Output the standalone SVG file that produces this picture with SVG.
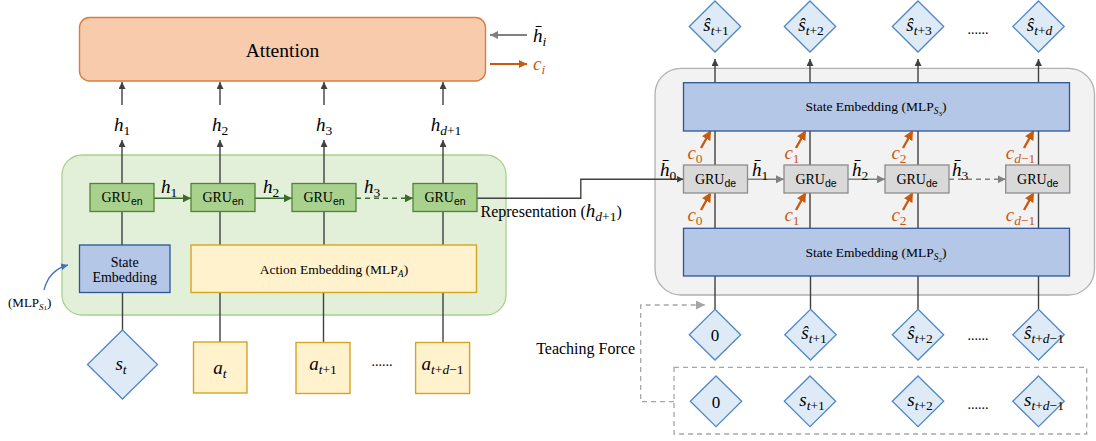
<svg xmlns="http://www.w3.org/2000/svg" width="1096" height="441" viewBox="0 0 1096 441">
<style>
.t{font-family:"Liberation Serif",serif;fill:#000}
.m{font-family:"Liberation Serif",serif;font-style:italic;font-size:19px;fill:#000}
.n{font-style:normal}
.sb{font-size:13.5px}
.ln{stroke:#404040;stroke-width:1.4;fill:none}
.gru-en{fill:#a9d18e;stroke:#548235;stroke-width:1.3}
.gru-de{fill:#d9d9d9;stroke:#8c8c8c;stroke-width:1.3}
.se{fill:#b4c7e7;stroke:#2f5597;stroke-width:1.3}
.act{fill:#fff2cc;stroke:#d6a520;stroke-width:1.4}
.dia{fill:#deebf7;stroke:#4e88c7;stroke-width:1.3}
.g{font-family:"Liberation Serif",serif;font-size:14px;fill:#000}
.gs{font-family:"Liberation Sans",sans-serif;font-size:10.5px}
.oc{stroke:#c55a11;stroke-width:2.4;fill:none}
.ot{fill:#c55a11}
</style>
<defs>
<marker id="ad" viewBox="0 0 10 10" refX="10" refY="5" markerWidth="7" markerHeight="7" markerUnits="userSpaceOnUse" orient="auto"><path d="M0,0 L10,5 L0,10 z" fill="#404040"/></marker>
<marker id="agr" viewBox="0 0 10 10" refX="10" refY="5" markerWidth="8" markerHeight="8" markerUnits="userSpaceOnUse" orient="auto"><path d="M0,0 L10,5 L0,10 z" fill="#3b6b2a"/></marker>
<marker id="agy" viewBox="0 0 10 10" refX="10" refY="5" markerWidth="8" markerHeight="8" markerUnits="userSpaceOnUse" orient="auto"><path d="M0,0 L10,5 L0,10 z" fill="#808080"/></marker>
<marker id="agl" viewBox="0 0 10 10" refX="10" refY="5" markerWidth="9" markerHeight="9" markerUnits="userSpaceOnUse" orient="auto"><path d="M0,0 L10,5 L0,10 z" fill="#a6a6a6"/></marker>
<marker id="aor" viewBox="0 0 10 10" refX="10" refY="5" markerWidth="8" markerHeight="8" markerUnits="userSpaceOnUse" orient="auto"><path d="M0,0 L10,5 L0,10 z" fill="#c55a11"/></marker>
<marker id="aor2" viewBox="0 0 10 10" refX="8" refY="5" markerWidth="4" markerHeight="4" orient="auto"><path d="M0,0 L10,5 L0,10 z" fill="#c55a11"/></marker>
<marker id="abl" viewBox="0 0 10 10" refX="10" refY="5" markerWidth="7" markerHeight="7" markerUnits="userSpaceOnUse" orient="auto"><path d="M0,0 L10,5 L0,10 z" fill="#4472c4"/></marker>
</defs>

<!-- containers -->
<g id="encoder-container"><rect x="62" y="155" width="444" height="160" rx="20" fill="#e2efd9" stroke="#a9d18e" stroke-width="1.3"/></g>
<g id="decoder-container"><rect x="655" y="68.3" width="439.5" height="226.7" rx="26" fill="#f2f2f2" stroke="#b0b0b0" stroke-width="1.3"/></g>
<g id="teacher-box"><rect x="674" y="367.3" width="412.7" height="66.7" fill="none" stroke="#a6a6a6" stroke-width="1.3" stroke-dasharray="5,4"/></g>

<!-- connectors -->
<g id="connectors">
  <line class="ln" x1="122" y1="105" x2="122" y2="82" marker-end="url(#ad)"/>
  <line class="ln" x1="220" y1="105" x2="220" y2="82" marker-end="url(#ad)"/>
  <line class="ln" x1="324" y1="105" x2="324" y2="82" marker-end="url(#ad)"/>
  <line class="ln" x1="443" y1="105" x2="443" y2="82" marker-end="url(#ad)"/>
  <line class="ln" x1="122" y1="183.5" x2="122" y2="140" marker-end="url(#ad)"/>
  <line class="ln" x1="220" y1="183.5" x2="220" y2="140" marker-end="url(#ad)"/>
  <line class="ln" x1="324" y1="183.5" x2="324" y2="140" marker-end="url(#ad)"/>
  <line class="ln" x1="443" y1="183.5" x2="443" y2="140" marker-end="url(#ad)"/>
  <line class="ln" x1="122" y1="211.5" x2="122" y2="245"/>
  <line class="ln" x1="220" y1="211.5" x2="220" y2="245"/>
  <line class="ln" x1="324" y1="211.5" x2="324" y2="245"/>
  <line class="ln" x1="443" y1="211.5" x2="443" y2="245"/>
  <line class="ln" x1="122.5" y1="292.5" x2="122.5" y2="330"/>
  <line class="ln" x1="220" y1="292.5" x2="220" y2="342"/>
  <line class="ln" x1="323.5" y1="292.5" x2="323.5" y2="342.5"/>
  <line class="ln" x1="443" y1="292.5" x2="443" y2="342.5"/>
  <line x1="154" y1="198.3" x2="191" y2="198.3" stroke="#3b6b2a" stroke-width="1.4" marker-end="url(#agr)"/>
  <line x1="255" y1="198.3" x2="292" y2="198.3" stroke="#3b6b2a" stroke-width="1.4" marker-end="url(#agr)"/>
  <line x1="356" y1="198.3" x2="413" y2="198.3" stroke="#3b6b2a" stroke-width="1.4" stroke-dasharray="5,4" marker-end="url(#agr)"/>
  <line x1="527" y1="35" x2="490" y2="35" stroke="#808080" stroke-width="2.2" marker-end="url(#agy)"/>
  <line x1="490" y1="64" x2="527" y2="64" stroke="#c55a11" stroke-width="2.2" marker-end="url(#aor)"/>
  <path d="M44,290 Q49,270 68,265" fill="none" stroke="#4472c4" stroke-width="1.3" marker-end="url(#abl)"/>
  <path d="M476.5,198.3 H580.8 V179.3 H683.5" class="ln" stroke-width="1.6" marker-end="url(#ad)"/>
  <line x1="747.5" y1="179.3" x2="784" y2="179.3" stroke="#808080" stroke-width="1.4" marker-end="url(#agy)"/>
  <line x1="848" y1="179.3" x2="885" y2="179.3" stroke="#808080" stroke-width="1.4" marker-end="url(#agy)"/>
  <line x1="949" y1="179.3" x2="1005.7" y2="179.3" stroke="#808080" stroke-width="1.4" stroke-dasharray="5,4" marker-end="url(#agy)"/>
  <line class="ln" x1="715" y1="82.7" x2="715" y2="59" marker-end="url(#ad)"/>
  <line class="ln" x1="810" y1="82.7" x2="810" y2="59" marker-end="url(#ad)"/>
  <line class="ln" x1="918" y1="82.7" x2="918" y2="59" marker-end="url(#ad)"/>
  <line class="ln" x1="1038.5" y1="82.7" x2="1038.5" y2="59" marker-end="url(#ad)"/>
  <line class="ln" x1="715" y1="131" x2="715" y2="165"/>
  <line class="ln" x1="810" y1="131" x2="810" y2="165"/>
  <line class="ln" x1="918" y1="131" x2="918" y2="165"/>
  <line class="ln" x1="1038.5" y1="131" x2="1038.5" y2="165"/>
  <line class="ln" x1="715" y1="193" x2="715" y2="228.3"/>
  <line class="ln" x1="810" y1="193" x2="810" y2="228.3"/>
  <line class="ln" x1="918" y1="193" x2="918" y2="228.3"/>
  <line class="ln" x1="1038.5" y1="193" x2="1038.5" y2="228.3"/>
  <line class="ln" x1="715" y1="276" x2="715" y2="309.3"/>
  <line class="ln" x1="810.5" y1="276" x2="810.5" y2="309.3"/>
  <line class="ln" x1="918" y1="276" x2="918" y2="309.3"/>
  <line class="ln" x1="1038.5" y1="276" x2="1038.5" y2="309.3"/>
  <line class="oc" x1="701" y1="148" x2="710" y2="132" marker-end="url(#aor2)"/>
  <line class="oc" x1="796" y1="148" x2="805" y2="132" marker-end="url(#aor2)"/>
  <line class="oc" x1="903" y1="148" x2="912" y2="132" marker-end="url(#aor2)"/>
  <line class="oc" x1="1024" y1="148" x2="1033" y2="132" marker-end="url(#aor2)"/>
  <line class="oc" x1="701" y1="210" x2="710" y2="194" marker-end="url(#aor2)"/>
  <line class="oc" x1="796" y1="210" x2="805" y2="194" marker-end="url(#aor2)"/>
  <line class="oc" x1="903" y1="210" x2="912" y2="194" marker-end="url(#aor2)"/>
  <line class="oc" x1="1024" y1="210" x2="1033" y2="194" marker-end="url(#aor2)"/>
  <path d="M674,401.7 H640.7 V305 H705" fill="none" stroke="#a6a6a6" stroke-width="1.3" stroke-dasharray="5,4" marker-end="url(#agl)"/>
</g>

<g id="attention">
  <rect x="79.5" y="17.5" width="406" height="63.5" rx="10" fill="#f8cbad" stroke="#dc7c3c" stroke-width="1.4"/>
  <text class="t" x="282.5" y="57" font-size="19.5" text-anchor="middle">Attention</text>
</g>
<g id="attn-labels">
  <text class="m" x="533" y="42" font-size="21">h̄<tspan class="sb" font-size="15" dy="4">i</tspan></text>
  <text class="m ot" x="533" y="70" font-size="21">c<tspan class="sb" font-size="15" dy="4">i</tspan></text>
</g>

<g id="h-labels">
  <text class="m" x="122" y="131" text-anchor="middle">h<tspan class="sb n" dy="4">1</tspan></text>
  <text class="m" x="220" y="131" text-anchor="middle">h<tspan class="sb n" dy="4">2</tspan></text>
  <text class="m" x="324" y="131" text-anchor="middle">h<tspan class="sb n" dy="4">3</tspan></text>
  <text class="m" x="446" y="131" text-anchor="middle">h<tspan class="sb" dy="4">d</tspan><tspan class="sb n">+1</tspan></text>
  <text class="m" x="169" y="193" text-anchor="middle">h<tspan class="sb n" dy="4">1</tspan></text>
  <text class="m" x="271" y="193" text-anchor="middle">h<tspan class="sb n" dy="4">2</tspan></text>
  <text class="m" x="372" y="193" text-anchor="middle">h<tspan class="sb n" dy="4">3</tspan></text>
</g>

<g id="gru-en-1"><rect class="gru-en" x="90" y="183.5" width="64" height="28"/><text class="g" x="122" y="202" text-anchor="middle">GRU<tspan class="gs" dy="3">en</tspan></text></g>
<g id="gru-en-2"><rect class="gru-en" x="191" y="183.5" width="64" height="28"/><text class="g" x="223" y="202" text-anchor="middle">GRU<tspan class="gs" dy="3">en</tspan></text></g>
<g id="gru-en-3"><rect class="gru-en" x="292" y="183.5" width="64" height="28"/><text class="g" x="324" y="202" text-anchor="middle">GRU<tspan class="gs" dy="3">en</tspan></text></g>
<g id="gru-en-4"><rect class="gru-en" x="413" y="183.5" width="64" height="28"/><text class="g" x="445" y="202" text-anchor="middle">GRU<tspan class="gs" dy="3">en</tspan></text></g>

<g id="state-embedding-1">
  <rect class="se" x="79.5" y="245" width="90.5" height="47.5"/>
  <text class="t" x="124.7" y="266.5" font-size="14" text-anchor="middle">State</text>
  <text class="t" x="124.7" y="282" font-size="14" text-anchor="middle">Embedding</text>
</g>
<g id="mlp-s1-label"><text class="t" x="8" y="307" font-size="13">(MLP<tspan font-size="9" font-style="italic" dy="3">S</tspan><tspan font-size="7">1</tspan><tspan dy="-3">)</tspan></text></g>

<g id="action-embedding">
  <rect class="act" x="191" y="245" width="285.5" height="47.5"/>
  <text class="t" x="334" y="273.5" font-size="13.5" text-anchor="middle">Action Embedding (MLP<tspan font-size="9.5" font-style="italic" dy="3">A</tspan><tspan dy="-3">)</tspan></text>
</g>

<g id="representation-label"><text class="t" x="480.5" y="217" font-size="16">Representation (<tspan class="m" font-size="18">h</tspan><tspan class="m sb" dy="4">d</tspan><tspan class="m sb n">+1</tspan><tspan dy="-4">)</tspan></text></g>

<g id="input-st"><polygon class="dia" points="122.5,330 157.5,364.5 122.5,399 87.5,364.5"/><text class="m" x="121" y="370" text-anchor="middle">s<tspan class="sb" dy="4">t</tspan></text></g>
<g id="input-at"><rect class="act" x="193.5" y="342" width="53.5" height="51"/><text class="m" x="220" y="374" font-size="22" text-anchor="middle">a<tspan class="sb" font-size="15" dy="4">t</tspan></text></g>
<g id="input-at1"><rect class="act" x="296" y="342.5" width="54" height="51"/><text class="m" x="323" y="370" text-anchor="middle">a<tspan class="sb" dy="4">t</tspan><tspan class="sb n">+1</tspan></text></g>
<g id="input-atd"><rect class="act" x="415.6" y="342.5" width="54" height="51"/><text class="m" x="442.6" y="370" text-anchor="middle">a<tspan class="sb" dy="4">t</tspan><tspan class="sb n">+</tspan><tspan class="sb">d</tspan><tspan class="sb n">−1</tspan></text></g>
<g id="dots-a"><text class="t" x="382" y="366" font-size="14" text-anchor="middle">......</text></g>

<g id="state-embedding-3">
  <rect class="se" x="683.5" y="82.7" width="386" height="48.3"/>
  <text class="t" x="876" y="111" font-size="13.5" text-anchor="middle">State Embedding (MLP<tspan font-size="9.5" font-style="italic" dy="3">S</tspan><tspan font-size="7" dy="1.5">3</tspan><tspan dy="-4.5">)</tspan></text>
</g>
<g id="state-embedding-2">
  <rect class="se" x="683.5" y="228.3" width="386" height="47.7"/>
  <text class="t" x="876" y="257" font-size="13.5" text-anchor="middle">State Embedding (MLP<tspan font-size="9.5" font-style="italic" dy="3">S</tspan><tspan font-size="7" dy="1.5">2</tspan><tspan dy="-4.5">)</tspan></text>
</g>

<g id="gru-de-1"><rect class="gru-de" x="683.5" y="165" width="64" height="28"/><text class="g" x="715.5" y="183.5" text-anchor="middle">GRU<tspan class="gs" dy="3">de</tspan></text></g>
<g id="gru-de-2"><rect class="gru-de" x="784" y="165" width="64" height="28"/><text class="g" x="816" y="183.5" text-anchor="middle">GRU<tspan class="gs" dy="3">de</tspan></text></g>
<g id="gru-de-3"><rect class="gru-de" x="885" y="165" width="64" height="28"/><text class="g" x="917" y="183.5" text-anchor="middle">GRU<tspan class="gs" dy="3">de</tspan></text></g>
<g id="gru-de-4"><rect class="gru-de" x="1005.7" y="165" width="64" height="28"/><text class="g" x="1037.7" y="183.5" text-anchor="middle">GRU<tspan class="gs" dy="3">de</tspan></text></g>

<g id="hbar-labels">
  <text class="m" x="660" y="176">h̄<tspan class="sb n" dy="4">0</tspan></text>
  <text class="m" x="752" y="176">h̄<tspan class="sb n" dy="4">1</tspan></text>
  <text class="m" x="852" y="176">h̄<tspan class="sb n" dy="4">2</tspan></text>
  <text class="m" x="952" y="176">h̄<tspan class="sb n" dy="4">3</tspan></text>
</g>
<g id="c-labels">
  <text class="m ot" x="695" y="159" text-anchor="middle">c<tspan class="sb n" dy="4">0</tspan></text>
  <text class="m ot" x="792" y="159" text-anchor="middle">c<tspan class="sb n" dy="4">1</tspan></text>
  <text class="m ot" x="899" y="159" text-anchor="middle">c<tspan class="sb n" dy="4">2</tspan></text>
  <text class="m ot" x="1020.5" y="159" text-anchor="middle">c<tspan class="sb" dy="4">d</tspan><tspan class="sb n">−1</tspan></text>
  <text class="m ot" x="695" y="221" text-anchor="middle">c<tspan class="sb n" dy="4">0</tspan></text>
  <text class="m ot" x="792" y="221" text-anchor="middle">c<tspan class="sb n" dy="4">1</tspan></text>
  <text class="m ot" x="899" y="221" text-anchor="middle">c<tspan class="sb n" dy="4">2</tspan></text>
  <text class="m ot" x="1020.5" y="221" text-anchor="middle">c<tspan class="sb" dy="4">d</tspan><tspan class="sb n">−1</tspan></text>
</g>

<g id="out-1"><polygon class="dia" points="715,1 740.7,26.5 715,52 689.3,26.5"/><text class="m" x="716" y="31" font-size="18" text-anchor="middle">ŝ<tspan class="sb" font-size="13" dy="4">t</tspan><tspan class="sb n" font-size="13">+1</tspan></text></g>
<g id="out-2"><polygon class="dia" points="810,1 835.7,26.5 810,52 784.3,26.5"/><text class="m" x="811" y="31" font-size="18" text-anchor="middle">ŝ<tspan class="sb" font-size="13" dy="4">t</tspan><tspan class="sb n" font-size="13">+2</tspan></text></g>
<g id="out-3"><polygon class="dia" points="918,1 943.7,26.5 918,52 892.3,26.5"/><text class="m" x="919" y="31" font-size="18" text-anchor="middle">ŝ<tspan class="sb" font-size="13" dy="4">t</tspan><tspan class="sb n" font-size="13">+3</tspan></text></g>
<g id="out-4"><polygon class="dia" points="1038.5,1 1064.2,26.5 1038.5,52 1012.8,26.5"/><text class="m" x="1039.5" y="31" font-size="18" text-anchor="middle">ŝ<tspan class="sb" font-size="13" dy="4">t</tspan><tspan class="sb n" font-size="13">+</tspan><tspan class="sb" font-size="13">d</tspan></text></g>
<g id="dots-out"><text class="t" x="978" y="34" font-size="14" text-anchor="middle">......</text></g>

<g id="din-1"><polygon class="dia" points="715,309.3 740.7,334.7 715,360 689.3,334.7"/><text class="t" x="715" y="340.5" font-size="17" text-anchor="middle">0</text></g>
<g id="din-2"><polygon class="dia" points="810.5,309.3 836.2,334.7 810.5,360 784.8,334.7"/><text class="m" x="814" y="339" font-size="18" text-anchor="middle">ŝ<tspan class="sb" font-size="13" dy="4">t</tspan><tspan class="sb n" font-size="13">+1</tspan></text></g>
<g id="din-3"><polygon class="dia" points="918,309.3 943.7,334.7 918,360 892.3,334.7"/><text class="m" x="920" y="339" font-size="18" text-anchor="middle">ŝ<tspan class="sb" font-size="13" dy="4">t</tspan><tspan class="sb n" font-size="13">+2</tspan></text></g>
<g id="din-4"><polygon class="dia" points="1038.5,309.3 1064.2,334.7 1038.5,360 1012.8,334.7"/><text class="m" x="1044" y="339" font-size="18" text-anchor="middle">ŝ<tspan class="sb" font-size="13" dy="4">t</tspan><tspan class="sb n" font-size="13">+</tspan><tspan class="sb" font-size="13">d</tspan><tspan class="sb n" font-size="13">−1</tspan></text></g>
<g id="dots-din"><text class="t" x="978" y="340" font-size="14" text-anchor="middle">......</text></g>

<g id="gt-1"><polygon class="dia" points="716,376 741.7,401.3 716,426.7 690.3,401.3"/><text class="t" x="716" y="407.5" font-size="17" text-anchor="middle">0</text></g>
<g id="gt-2"><polygon class="dia" points="810,376 835.7,401.3 810,426.7 784.3,401.3"/><text class="m" x="812" y="406" font-size="18" text-anchor="middle">s<tspan class="sb" font-size="13" dy="4">t</tspan><tspan class="sb n" font-size="13">+1</tspan></text></g>
<g id="gt-3"><polygon class="dia" points="918,376 943.7,401.3 918,426.7 892.3,401.3"/><text class="m" x="920" y="406" font-size="18" text-anchor="middle">s<tspan class="sb" font-size="13" dy="4">t</tspan><tspan class="sb n" font-size="13">+2</tspan></text></g>
<g id="gt-4"><polygon class="dia" points="1038.5,376 1064.2,401.3 1038.5,426.7 1012.8,401.3"/><text class="m" x="1044" y="406" font-size="18" text-anchor="middle">s<tspan class="sb" font-size="13" dy="4">t</tspan><tspan class="sb n" font-size="13">+</tspan><tspan class="sb" font-size="13">d</tspan><tspan class="sb n" font-size="13">−1</tspan></text></g>
<g id="dots-gt"><text class="t" x="978" y="409" font-size="14" text-anchor="middle">......</text></g>

<g id="teaching-label"><text class="t" x="635" y="353.5" font-size="16" text-anchor="end">Teaching Force</text></g>
</svg>
